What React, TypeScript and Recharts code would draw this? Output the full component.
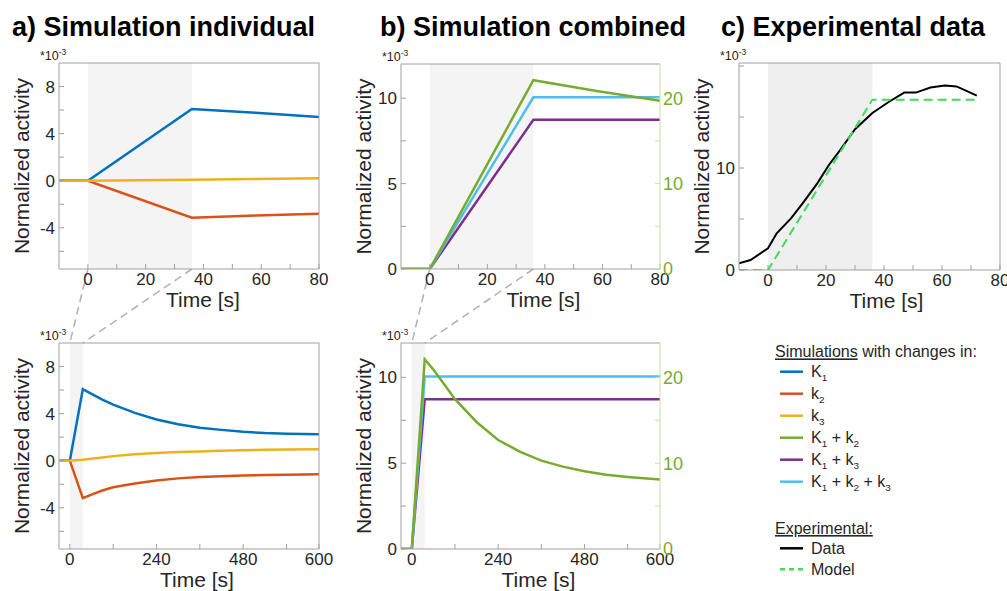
import React from 'react';
import { LineChart, Line, XAxis, YAxis, ReferenceArea } from 'recharts';

const FONT = '"Liberation Sans", Arial, Helvetica, sans-serif';
const AX = '#a0a0a0';
const TXT = '#262626';

// ---------- colours ----------
const colK1 = '#0072BD';
const colk2 = '#D95319';
const colk3 = '#EDB120';
const colK1k2 = '#77AC30';
const colK1k3 = '#7E2F8E';
const colK1k2k3 = '#4DBEEE';
const colData = '#000000';
const colModel = '#3fdc5a';

// ---------- data: panel a, first 80 s ----------
const timeShort = [-10, 0, 36, 58, 80];
const aShortK1 = [0, 0, 6.1, 5.78, 5.42];
const aShortk2 = [0, 0, -3.15, -2.95, -2.8];
const aShortk3 = [0, 0, 0.08, 0.15, 0.22];

// ---------- data: panel b, first 80 s ----------
const bShortK1k2 = [0, 0, 22.1, 20.85, 19.7]; // right axis
const bShortK1k3 = [0, 0, 8.73, 8.73, 8.73];
const bShortK1k2k3 = [0, 0, 10.05, 10.05, 10.05];

// ---------- data: long time course ----------
const timeLong = [-30, 0, 36, 60, 90, 120, 180, 240, 300, 360, 420, 480, 540, 600, 690];
const aLongK1 = [0, 0, 6.08, 5.68, 5.19, 4.76, 4.06, 3.5, 3.1, 2.81, 2.62, 2.46, 2.35, 2.3, 2.25];
const aLongk2 = [0, 0, -3.18, -2.88, -2.53, -2.25, -1.93, -1.69, -1.5, -1.38, -1.31, -1.25, -1.21, -1.19, -1.15];
const aLongk3 = [0, 0, 0.08, 0.17, 0.28, 0.39, 0.54, 0.65, 0.73, 0.79, 0.84, 0.89, 0.93, 0.95, 0.97];
const bLongK1k2 = [0, 0, 22.1, 20.9, 19.2, 17.45, 14.8, 12.7, 11.35, 10.3, 9.6, 9.05, 8.65, 8.4, 8.1]; // right axis
const bLongK1k3 = [0, 0, 8.73, 8.73, 8.73, 8.73, 8.73, 8.73, 8.73, 8.73, 8.73, 8.73, 8.73, 8.73, 8.73];
const bLongK1k2k3 = [0, 0, 10.05, 10.05, 10.05, 10.05, 10.05, 10.05, 10.05, 10.05, 10.05, 10.05, 10.05, 10.05, 10.05];

// ---------- data: panel c, experimental ----------
const timeExp = [-10, -6, 0, 3, 8, 12, 17, 21, 25, 30, 36, 42, 47, 51, 56, 61, 65, 69, 72];
const expData = [0.66, 0.98, 2.13, 3.6, 5.08, 6.55, 8.5, 10.3, 11.8, 13.8, 15.4, 16.55, 17.4, 17.4, 17.9, 18.1, 18.0, 17.5, 17.1];
const timeModel = [-10, 0, 36, 72];
const expModel = [0, 0, 16.7, 16.7];

// ---------- axes ----------
const stimulus: [number, number] = [0, 36];
const shortDomain: [number, number] = [-10, 80];
const shortTicks = [0, 10, 20, 30, 40, 50, 60, 70, 80];
const shortLabels = [0, 20, 40, 60, 80];
const longDomain: [number, number] = [-30, 690];
const longTicks = [0, 120, 240, 360, 480, 600, 690];
const longLabelPairs: [number, string][] = [[0, '0'], [240, '240'], [480, '480'], [690, '600']];
const aYDomain: [number, number] = [-7.5, 10];
const aYTicks = [-6, -4, -2, 0, 2, 4, 6, 8];
const aYLabels = [-4, 0, 4, 8];
const bYDomain: [number, number] = [0, 12];
const bYTicks = [0, 2.5, 5, 7.5, 10];
const bYLabels = [0, 5, 10];
const bRDomain: [number, number] = [0, 24];
const bRTicks = [0, 5, 10, 15, 20];
const bRLabels = [0, 10, 20];
const cYDomain: [number, number] = [0, 20.3];
const cYTicks = [0, 5, 10, 15, 20];
const cYLabels = [0, 10];

// ---------- legend ----------
const simNames = ['K_1', 'k_2', 'k_3', 'K_1 + k_2', 'K_1 + k_3', 'K_1 + k_2 + k_3'];
const simColors = [colK1, colk2, colk3, colK1k2, colK1k3, colK1k2k3];
const expNames = ['Data', 'Model'];
const expColors = [colData, colModel];

// ---------- tables ----------
const aShortData = timeShort.map((t, i) => ({ t, K1: aShortK1[i], k2: aShortk2[i], k3: aShortk3[i] }));
const bShortData = timeShort.map((t, i) => ({ t, K1k2: bShortK1k2[i], K1k3: bShortK1k3[i], K1k2k3: bShortK1k2k3[i] }));
const aLongData = timeLong.map((t, i) => ({ t, K1: aLongK1[i], k2: aLongk2[i], k3: aLongk3[i] }));
const bLongData = timeLong.map((t, i) => ({ t, K1k2: bLongK1k2[i], K1k3: bLongK1k3[i], K1k2k3: bLongK1k2k3[i] }));
const cDataRows = timeExp.map((t, i) => ({ t, v: expData[i] }));
const cModelRows = timeModel.map((t, i) => ({ t, v: expModel[i] }));

const toMap = (vals: number[]) => Object.fromEntries(vals.map((v) => [String(v), String(v)]));
const longLabelMap = Object.fromEntries(longLabelPairs.map(([v, s]) => [String(v), s]));

type Geo = { left: number; top: number; w: number; h: number };
const geoA1: Geo = { left: 59, top: 63, w: 260, h: 206 };
const geoB1: Geo = { left: 401, top: 64, w: 259, h: 205 };
const geoC1: Geo = { left: 739, top: 63, w: 261, h: 207 };
const geoA2: Geo = { left: 59, top: 343, w: 260, h: 206 };
const geoB2: Geo = { left: 401, top: 343, w: 259, h: 206 };

type AxisSpec = { domain: [number, number]; ticks: number[]; labels: Record<string, string> };
type LineSpec = { key: string; color: string; right?: boolean; dash?: string; data?: any[]; width?: number };

const PL = 70, PT = 20, PR = 40, PB = 40;
const YW = 40, XH = 30, TH = 6, RW = 6;
const TICK_FS = 17;

function Panel(props: {
  geo: Geo; data?: any[]; x: AxisSpec; y: AxisSpec; yRight?: AxisSpec; lines: LineSpec[]; bandFill: string; rightColor?: string;
}) {
  const { geo, data, x, y, yRight, lines, bandFill, rightColor } = props;
  const tickStyle = { fill: TXT, fontSize: TICK_FS, fontFamily: FONT };
  const fmt = (m: Record<string, string>) => (v: any) => m[String(v)] ?? '';
  return (
    <div style={{ position: 'absolute', left: geo.left - PL, top: geo.top - PT }}>
      <LineChart width={PL + geo.w + PR} height={PT + geo.h + PB} data={data}
        margin={{ left: PL - YW, top: PT - TH, right: PR - RW, bottom: PB - XH }}>
        <ReferenceArea x1={stimulus[0]} x2={stimulus[1]} fill={bandFill} fillOpacity={1} stroke="none" />
        <XAxis dataKey="t" type="number" domain={x.domain} ticks={x.ticks} interval={0} allowDataOverflow
          tickFormatter={fmt(x.labels)} height={XH} tickSize={-5} tickMargin={9} stroke={AX} tick={tickStyle} />
        <XAxis xAxisId="top" orientation="top" type="number" domain={x.domain} ticks={x.ticks} interval={0} allowDataOverflow
          height={TH} tickSize={-5} tick={false} stroke={AX} />
        <YAxis type="number" domain={y.domain} ticks={y.ticks} interval={0} allowDataOverflow
          tickFormatter={fmt(y.labels)} width={YW} tickSize={-5} tickMargin={9} stroke={AX} tick={tickStyle} />
        {yRight ? (
          <YAxis yAxisId="r" orientation="right" type="number" domain={yRight.domain} ticks={yRight.ticks} interval={0} allowDataOverflow
            tickFormatter={fmt(yRight.labels)} width={RW} tickSize={-5} tickMargin={8} stroke={rightColor}
            tick={{ ...tickStyle, fill: colK1k2, fontSize: 18 }} />
        ) : (
          <YAxis yAxisId="r" orientation="right" type="number" domain={y.domain} ticks={y.ticks} interval={0} allowDataOverflow
            width={RW} tickSize={-5} tick={false} stroke={AX} />
        )}
        {lines.map((l) => (
          <Line key={l.key + (l.data ? 'd' + l.color : '')} data={l.data} dataKey={l.key} type="linear" stroke={l.color}
            strokeWidth={l.width ?? 2.5} strokeDasharray={l.dash} dot={false} activeDot={false}
            isAnimationActive={false} yAxisId={l.right ? 'r' : 0} />
        ))}
      </LineChart>
    </div>
  );
}

const xPx = (g: Geo, d: [number, number], v: number) => g.left + ((v - d[0]) / (d[1] - d[0])) * g.w;

function Sub({ text, x, y, size }: { text: string; x: number; y: number; size: number }) {
  const parts = text.split(/(_\d)/).filter((p) => p !== '');
  return (
    <text x={x} y={y} fontSize={size} fill={TXT} fontFamily={FONT}>
      {parts.map((p, i) =>
        p.startsWith('_') ? (
          <tspan key={i} fontSize={size * 0.62} dy={4}>{p.slice(1)}</tspan>
        ) : (
          <tspan key={i} dy={i > 0 && parts[i - 1].startsWith('_') ? -4 : 0}>{p}</tspan>
        )
      )}
    </text>
  );
}

export default function App() {
  const shortX: AxisSpec = { domain: shortDomain, ticks: shortTicks, labels: toMap(shortLabels) };
  const longX: AxisSpec = { domain: longDomain, ticks: longTicks, labels: longLabelMap };
  const aY: AxisSpec = { domain: aYDomain, ticks: aYTicks, labels: toMap(aYLabels) };
  const bY: AxisSpec = { domain: bYDomain, ticks: bYTicks, labels: toMap(bYLabels) };
  const bR: AxisSpec = { domain: bRDomain, ticks: bRTicks, labels: toMap(bRLabels) };
  const cY: AxisSpec = { domain: cYDomain, ticks: cYTicks, labels: toMap(cYLabels) };

  const panels: { geo: Geo; dx: number }[] = [
    { geo: geoA1, dx: 14 },
    { geo: geoB1, dx: 13 },
    { geo: geoC1, dx: 17 },
    { geo: geoA2, dx: 8 },
    { geo: geoB2, dx: 8 },
  ];
  const connectors = [
    [geoA1, geoA2],
    [geoB1, geoB2],
  ].flatMap(([g1, g2]) =>
    stimulus.map((v) => ({
      x1: xPx(g1, shortDomain, v), y1: g1.top + g1.h,
      x2: xPx(g2, longDomain, v), y2: g2.top,
    }))
  );

  const legX = 775;
  const rowY0 = 371.7;
  const rowStep = 22;
  const expY0 = 548.3;

  return (
    <div style={{ position: 'absolute', left: 0, top: 0, width: 1007, height: 591, background: '#fff', overflow: 'hidden', fontFamily: FONT }}>
      <svg width={1007} height={591} style={{ position: 'absolute', left: 0, top: 0 }}>
        {connectors.map((c, i) => (
          <line key={i} x1={c.x1} y1={c.y1} x2={c.x2} y2={c.y2} stroke="#b4b4b4" strokeWidth={1.6} strokeDasharray="8 5" />
        ))}
        <text x={12} y={36} fontSize={27} fontWeight="bold" fontFamily={FONT} fill="#000">a) Simulation individual</text>
        <text x={380} y={36} fontSize={27} fontWeight="bold" fontFamily={FONT} fill="#000">b) Simulation combined</text>
        <text x={721} y={36} fontSize={27} fontWeight="bold" fontFamily={FONT} fill="#000">c) Experimental data</text>
        {panels.map((p, i) => (
          <g key={i}>
            <text transform={`translate(${p.geo.left - 38},${p.geo.top + p.geo.h / 2}) rotate(-90)`} textAnchor="middle"
              dominantBaseline="central" fontSize={21} fill={TXT} fontFamily={FONT}>Normalized activity</text>
            <text x={p.geo.left + p.geo.w / 2 + p.dx} y={p.geo.top + p.geo.h + 30} textAnchor="middle" dominantBaseline="central"
              fontSize={21} fill={TXT} fontFamily={FONT}>Time [s]</text>
            <text x={p.geo.left - 19} y={p.geo.top - 3} fontSize={12.5} fill={TXT} fontFamily={FONT}>
              *10<tspan fontSize={8.5} dy={-5}>-3</tspan>
            </text>
          </g>
        ))}
        {/* legend */}
        <text x={legX} y={357.4} fontSize={16} fill={TXT} fontFamily={FONT}>
          <tspan style={{ textDecoration: 'underline' }}>Simulations</tspan> with changes in:
        </text>
        {simNames.map((n, i) => (
          <g key={n}>
            <line x1={780} x2={803} y1={rowY0 + i * rowStep} y2={rowY0 + i * rowStep} stroke={simColors[i]} strokeWidth={2.5} />
            <Sub text={n} x={811} y={rowY0 + i * rowStep + 5.7} size={16} />
          </g>
        ))}
        <text x={legX} y={534} fontSize={16} fill={TXT} fontFamily={FONT}>
          <tspan style={{ textDecoration: 'underline' }}>Experimental:</tspan>
        </text>
        {expNames.map((n, i) => (
          <g key={n}>
            <line x1={780} x2={803} y1={expY0 + i * 21} y2={expY0 + i * 21} stroke={expColors[i]} strokeWidth={2.5}
              strokeDasharray={i === 1 ? '5 4' : undefined} />
            <Sub text={n} x={811} y={expY0 + i * 21 + 5.7} size={16} />
          </g>
        ))}
      </svg>

      <Panel geo={geoA1} data={aShortData} x={shortX} y={aY} bandFill="#f4f4f4"
        lines={[{ key: 'K1', color: colK1 }, { key: 'k2', color: colk2 }, { key: 'k3', color: colk3 }]} />
      <Panel geo={geoB1} data={bShortData} x={shortX} y={bY} yRight={bR} rightColor="#c6e0a8" bandFill="#f4f4f4"
        lines={[{ key: 'K1k3', color: colK1k3 }, { key: 'K1k2k3', color: colK1k2k3 }, { key: 'K1k2', color: colK1k2, right: true }]} />
      <Panel geo={geoC1} x={shortX} y={cY} bandFill="#efefef"
        lines={[{ key: 'v', color: colData, data: cDataRows, width: 2 }, { key: 'v', color: colModel, data: cModelRows, dash: '9 5', width: 2 }]} />
      <Panel geo={geoA2} data={aLongData} x={longX} y={aY} bandFill="#f4f4f4"
        lines={[{ key: 'K1', color: colK1 }, { key: 'k2', color: colk2 }, { key: 'k3', color: colk3 }]} />
      <Panel geo={geoB2} data={bLongData} x={longX} y={bY} yRight={bR} rightColor="#c6e0a8" bandFill="#f4f4f4"
        lines={[{ key: 'K1k3', color: colK1k3 }, { key: 'K1k2k3', color: colK1k2k3 }, { key: 'K1k2', color: colK1k2, right: true }]} />
    </div>
  );
}
